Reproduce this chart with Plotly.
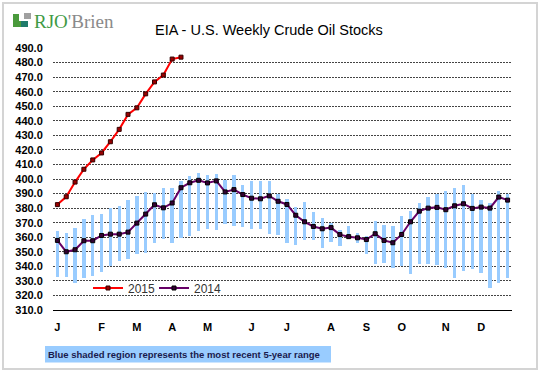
import plotly.graph_objects as go

# ---------------- data ----------------
weeks = list(range(52))
month_ticks = [0, 5, 9, 13, 17, 22, 26, 31, 35, 39, 44, 48]
month_labels = ["J", "F", "M", "A", "M", "J", "J", "A", "S", "O", "N", "D"]

stocks_2015 = [382.4, 387.8, 397.9, 406.7, 413.1, 417.9, 425.6, 434.1, 444.4,
               448.9, 458.5, 466.7, 471.4, 482.4, 483.7]

stocks_2014 = [357.8, 350.0, 351.4, 357.6, 357.6, 361.2, 362.1, 362.1, 363.5, 369.7,
               375.9, 382.3, 380.2, 383.5, 394.0, 397.4, 399.1, 397.3, 398.7, 391.1,
               392.7, 389.3, 386.8, 386.4, 388.4, 384.7, 382.5, 375.1, 370.6, 367.4,
               365.8, 366.6, 361.8, 360.4, 359.6, 358.4, 362.4, 357.8, 356.2, 361.9,
               370.6, 377.9, 380.0, 380.5, 378.9, 381.6, 383.0, 379.8, 380.7, 380.0,
               387.6, 385.5]

range_high = [364.2, 363.0, 366.0, 372.2, 375.2, 375.7, 380.2, 381.4, 385.5, 388.2,
              391.2, 390.1, 393.5, 394.0, 398.6, 402.0, 404.4, 402.5, 403.6, 399.3,
              402.5, 395.6, 398.5, 398.5, 398.5, 390.0, 386.3, 381.0, 384.1, 377.6,
              373.5, 369.6, 365.2, 367.7, 363.2, 361.0, 371.1, 368.3, 367.6, 374.5,
              377.9, 383.7, 387.6, 389.8, 392.1, 393.5, 395.8, 389.8, 385.3, 383.7,
              391.7, 389.8]

range_low = [332.6, 332.6, 328.7, 332.1, 333.3, 336.0, 340.2, 343.6, 344.7, 348.2,
             349.3, 356.2, 358.5, 356.2, 359.2, 360.8, 364.1, 365.8, 365.3, 369.0,
             367.5, 367.0, 365.5, 365.8, 362.2, 361.8, 356.1, 354.4, 357.8, 357.8,
             352.7, 356.6, 354.0, 360.7, 356.1, 348.6, 341.3, 342.4, 338.6, 340.2,
             334.4, 341.3, 341.3, 340.8, 339.0, 332.1, 336.7, 337.9, 335.6, 324.8,
             328.7, 332.1]

# ---------------- figure ----------------
W, H = 540, 372
L, R, T, B = 53, 28, 48, 62
PW, PH = W - L - R, H - T - B


def px(x):
    return (x - L) / PW


def py(y):
    return (H - B - y) / PH


FONT = "Liberation Sans, Arial, sans-serif"

fig = go.Figure()

fig.add_trace(go.Bar(
    x=weeks,
    y=[h - l for h, l in zip(range_high, range_low)],
    base=range_low,
    width=0.38,
    marker=dict(color="#99ccff", line=dict(width=0)),
    showlegend=False,
    hoverinfo="skip",
))

fig.add_trace(go.Scatter(
    x=weeks[:len(stocks_2015)], y=stocks_2015, name="2015",
    mode="lines+markers",
    line=dict(color="#ff0000", width=2),
    marker=dict(symbol="square", size=4, color="#990000",
                line=dict(color="#330000", width=1)),
    legend="legend",
))

fig.add_trace(go.Scatter(
    x=weeks, y=stocks_2014, name="2014",
    mode="lines+markers",
    line=dict(color="#660066", width=2),
    marker=dict(symbol="square", size=4, color="#330033",
                line=dict(color="#000000", width=1)),
    legend="legend2",
))

legend_common = dict(
    orientation="h", yanchor="middle", xanchor="left",
    font=dict(size=12, color="#333333", family=FONT),
    bgcolor="rgba(0,0,0,0)", itemwidth=30,
)

fig.update_layout(
    width=W, height=H,
    margin=dict(l=L, r=R, t=T, b=B),
    paper_bgcolor="white", plot_bgcolor="white",
    font=dict(family=FONT, color="#000000"),
    bargap=0,
    legend=dict(x=px(88), y=py(288), **legend_common),
    legend2=dict(x=px(154), y=py(288), **legend_common),
    xaxis=dict(
        range=[-0.5, 51.5],
        tickvals=month_ticks, ticktext=month_labels,
        tickfont=dict(size=11, family=FONT, weight="bold"),
        ticks="outside", ticklen=7, tickcolor="rgba(0,0,0,0)",
        showgrid=False, zeroline=False,
        showline=True, linecolor="#000000", linewidth=1,
        fixedrange=True,
    ),
    yaxis=dict(
        range=[310, 490], dtick=10, tick0=310, tickformat=".1f",
        tickfont=dict(size=11, family=FONT, weight="bold"),
        ticks="outside", ticklen=7, tickcolor="rgba(0,0,0,0)",
        showgrid=True, gridcolor="#444444", gridwidth=1, griddash="2px,1px",
        zeroline=False, showline=False,
        fixedrange=True,
    ),
    shapes=[
        # outer frame
        dict(type="rect", xref="paper", yref="paper",
             x0=px(3), x1=px(537), y0=py(369), y1=py(3),
             line=dict(color="#d4d4d4", width=2), layer="below"),
        # note box
        dict(type="rect", xref="paper", yref="paper",
             x0=px(45), x1=px(331), y0=py(362.5), y1=py(346),
             fillcolor="#99ccff", line=dict(width=0)),
        # logo icon
        dict(type="rect", xref="paper", yref="paper",
             x0=px(13), x1=px(28), y0=py(27), y1=py(14),
             fillcolor="#4a9a3c", line=dict(width=0)),
        dict(type="rect", xref="paper", yref="paper",
             x0=px(19), x1=px(28), y0=py(21), y1=py(14),
             fillcolor="white", line=dict(width=0)),
        dict(type="rect", xref="paper", yref="paper",
             x0=px(21), x1=px(28), y0=py(27), y1=py(21),
             fillcolor="#1f7a6a", line=dict(width=0)),
        dict(type="rect", xref="paper", yref="paper",
             x0=px(24), x1=px(31), y0=py(19), y1=py(13),
             fillcolor="#a0a0a0", line=dict(width=0)),
    ],
    annotations=[
        dict(text="EIA - U.S. Weekly Crude Oil Stocks", xref="paper", yref="paper",
             x=px(269), y=py(30), xanchor="center", yanchor="middle", showarrow=False,
             font=dict(size=14.5, family=FONT, color="#000000")),
        dict(text="<span style='color:#3f9a45'>RJO</span><span style='color:#8a8a8a'>'Brien</span>",
             xref="paper", yref="paper", x=px(32), y=py(21), xanchor="left",
             yanchor="middle", showarrow=False,
             font=dict(size=19, family="Liberation Serif, Times New Roman, serif")),
        dict(text="<b>Blue shaded region represents the most recent 5-year range</b>",
             xref="paper", yref="paper", x=px(46), y=py(354.5), xanchor="left",
             yanchor="middle", showarrow=False,
             font=dict(size=9.5, family=FONT, color="#1a1a4d")),
    ],
)

fig.write_html(
    "out.html",
    config={"displayModeBar": False},
    post_script="document.body.style.margin='0';document.body.style.overflow='hidden';",
)
